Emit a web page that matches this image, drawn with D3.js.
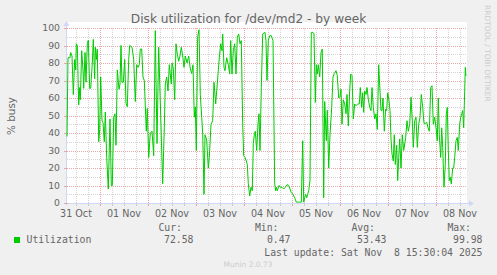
<!DOCTYPE html>
<html><head><meta charset="utf-8">
<script src="https://cdn.jsdelivr.net/npm/d3@7"></script>
<style>
html,body{margin:0;padding:0;background:#f0f0f0;}
svg{display:block;}
</style></head>
<body>
<svg id="chart" width="497" height="275"></svg>
<script>
// ---- data (hours since 2025-10-31 07:30 UTC, % busy) ----
const title = "Disk utilization for /dev/md2 - by week";
const yLabel = "% busy";
const seriesName = "Utilization";
const hours = [0,0.5,1.5,1.85,2.5,3.15,3.85,4.35,4.65,5.15,5.85,6.35,6.65,7.35,8,8.35,9,9.5,10.15,10.65,11.35,11.85,12.65,13.15,13.85,14.15,14.65,15.15,15.85,16.35,16.85,17.5,18,18.65,19.15,19.85,20.65,21.5,22.15,22.65,23.35,24,24.5,25.15,26,26.5,27,27.5,28.15,28.85,29.5,30.15,30.85,31.35,32.5,33.35,34.15,34.85,35.5,36.15,36.65,37.35,38,38.65,39.65,40.15,40.85,41.65,42.5,43.35,44.15,45,45.85,47.85,48.65,49.15,49.85,50.5,51.15,52.15,52.5,53.15,53.85,54.5,55.15,55.85,56.5,57.15,57.85,58.5,59.15,60,60.85,61.65,62.35,63,63.65,64.15,64.65,65.35,66,66.65,67.35,67.85,68.5,69,69.85,70.65,71.15,72,72.85,73.5,74.35,74.85,75.65,76.15,76.85,77.5,77.85,78.5,79,79.85,80.65,81.35,81.85,82.5,83.15,83.85,84.5,85.15,85.85,86.5,87.15,87.85,88.35,89,89.65,90.15,90.65,91.35,92,92.65,93.15,93.65,94.15,94.85,95.5,96,96.5,97.15,97.85,99,99.5,100,100.65,101.35,102.15,103,103.85,104.35,104.65,105.15,106,106.65,107.5,108.35,109.15,110,110.85,111.5,112.15,113,113.85,114.65,115.5,116.35,117.15,117.85,118.35,118.85,119.35,119.85,120.35,120.85,121.5,122.15,123,123.5,124.15,124.65,125.15,125.65,126.35,127,127.65,128.35,128.85,129.65,130.15,130.85,131.5,132.35,133,133.65,134.5,135.15,135.85,136.5,137,137.5,138.15,138.85,139.5,140,140.65,141.35,141.85,142.5,143.15,143.85,144.5,145.35,146.15,146.65,147.35,147.85,148.35,148.85,149.5,150,150.65,151.35,152,152.5,153.15,153.85,154.5,155.15,155.85,156.5,157,157.5,158,158.65,159.35,159.85,160.35,161,161.5,162,162.5,163.15,163.65,164.15,164.85,165.35,165.85,166.35,167,167.65,168.35,169.35,170,170.65,171.35,172,172.65,173.15,173.85,174.5,175.15,175.85,176.5,177.15,177.85,178.5,179.15,179.85,180.5,181.15,181.85,182.5,183.15,183.85,184.5,185.15,185.65,186.15,186.85,187.35,187.85,188.5,189.15,189.65,190.15,190.65,191.15,191.65,192.15,192.85,193.35,193.85,194.5,195.15,195.65,196.35,196.85,197.35,197.85,198.35,198.85,199.15,199.5];
const util = [38,83,83,86,84,62,82,76,91,90,56,66,59,87,76,65.5,86,69,91,93,65.5,65.5,80,93.5,71,89,82,88,35,42,72,47,46,35,52,26,8,48,10,10,49,51,33,76,65,68,90,69,69,82,57,55,82,90,89,82,58,79,77.5,79,88,88,72,70,41,54,26,40,41,27,98.5,34,89,11,43,68,72,64,79,68,80,77,59,91,85,81,84,89,84,77.5,84,80,84,76.6,74,79,49,55,30,95,99,62,49,40,5,39,36,20,26,45,47,69,56.6,64,75.6,83,91,87,96.6,77.5,75.6,83,79,73.7,92.8,73.7,87,91,73.7,94.7,96.6,91,92.8,45,27,26,24,22,11,4,9,7,34,39,41,30,45,51,30,66,96.6,97.5,92.8,70,92.8,95.6,95.6,92.8,11,7,9,7,10,9,9,8,9,10.5,10,8,6,5,3,0.5,0.5,0.5,0.5,35.6,0.5,3,5,3,5,7,13,97.5,97.5,96.6,57.5,79,73.7,79,72,86,88,3,58,35.6,53,20,39,54.7,72,74,75.6,72.8,60,61,65,45,59,56.6,51,62,44,64,73.7,72.8,48,56.6,55.6,56.6,56.6,66,54.7,63,51.8,64,62,66,59.4,54.7,52.8,66,54.7,48,51,42,79,64,52.8,52.8,60,41,53.7,52.8,63,58.5,52.8,36.6,28,24,39,22,33,12.8,26,36.6,20,39,30,37.5,47,41,45,60.4,47,31.8,47,49,31.8,45,49,62,54.7,45.5,45.5,46.1,43,41,66,67,45,49,43,35.6,60,39,26,43,31.8,9,22,51,54.7,30,12.8,14.7,10.8,20,20,26,35.6,37.5,30,45,49,51,52.8,43,64,77.5,72.6];
const yTicks = [0,10,20,30,40,50,60,70,80,90,100];
const dayLabels = ["31 Oct","01 Nov","02 Nov","03 Nov","04 Nov","05 Nov","06 Nov","07 Nov","08 Nov"];
const legendHeads = ["Cur:","Min:","Avg:","Max:"];
const legendVals = ["72.58","0.47","53.43","99.98"];
const lastUpdate = "Last update: Sat Nov  8 15:30:04 2025";
const footer = "Munin 2.0.73";
const sideText = "RRDTOOL / TOBI OETIKER";

// ---- layout ----
const svg = d3.select("#chart");
const L = 67, R = 467, T = 28, B = 203;
const start = new Date(Date.UTC(2025, 9, 31, 7, 30));
const end = new Date(start.getTime() + 200 * 3600e3);
const x = d3.scaleUtc().domain([start, end]).range([L, R]);
const y = d3.scaleLinear().domain([0, 100]).range([B, T]);
const font = "DejaVu Sans, sans-serif";
const mono = "DejaVu Sans Mono, monospace";
const fc = "#666666";

svg.append("rect").attr("width", 497).attr("height", 275).attr("fill", "#f0f0f0");
svg.append("rect").attr("x", L).attr("y", 22).attr("width", R - L).attr("height", B - 22).attr("fill", "#ffffff");

// grid
const g = svg.append("g").attr("shape-rendering", "crispEdges");
d3.range(0, 101, 5).forEach(v => {
  if (v === 0) return;
  const major = v % 10 === 0;
  g.append("line").attr("x1", L).attr("x2", R).attr("y1", Math.round(y(v)) + 0.5).attr("y2", Math.round(y(v)) + 0.5)
    .attr("stroke", major ? "#e8a8a8" : "#d4d4d4").attr("stroke-dasharray", "1,1");
});
const sixH = d3.utcHour.every(6).range(start, end);
sixH.forEach(t => {
  const major = t.getUTCHours() === 0;
  const xx = Math.round(x(t)) + 0.5;
  g.append("line").attr("x1", xx).attr("x2", xx).attr("y1", T).attr("y2", B)
    .attr("stroke", major ? "#e8a8a8" : "#d4d4d4").attr("stroke-dasharray", "1,1");
  g.append("line").attr("x1", xx).attr("x2", xx).attr("y1", B - 1).attr("y2", B + 3)
    .attr("stroke", major ? "#e8a0a0" : "#c8c8c8");
});

// axes lines
const axc = "#cfd6f8";
svg.append("line").attr("x1", L - 0.5).attr("x2", L - 0.5).attr("y1", B + 2).attr("y2", 24).attr("stroke", axc);
svg.append("line").attr("x1", L - 2).attr("x2", 470).attr("y1", B + 0.5).attr("y2", B + 0.5).attr("stroke", axc);
svg.append("path").attr("d", `M${L-3.5},26 L${L-0.5},21 L${L+2.5},26 Z`).attr("fill", axc);
svg.append("path").attr("d", `M469,${B-2.5} L474,${B+0.5} L469,${B+3.5} Z`).attr("fill", axc);
// tick marks
yTicks.forEach(v => {
  svg.append("line").attr("x1", L - 3).attr("x2", L + 1).attr("y1", Math.round(y(v)) + 0.5).attr("y2", Math.round(y(v)) + 0.5).attr("stroke", "#e0a8a8");
});

// y labels
svg.append("g").selectAll("text").data(yTicks).join("text")
  .attr("x", 60).attr("y", d => y(d) + 3.3).attr("text-anchor", "end")
  .attr("font-family", font).attr("font-size", 9.3).attr("fill", fc).text(d => d);

// x labels at noon of each day
const days = d3.utcDay.range(new Date(Date.UTC(2025, 9, 31)), new Date(Date.UTC(2025, 10, 9)));
svg.append("g").selectAll("text").data(days).join("text")
  .attr("x", d => x(new Date(d.getTime() + 12 * 3600e3))).attr("y", 216.5).attr("text-anchor", "middle")
  .attr("font-family", font).attr("font-size", 9.6).attr("fill", fc).text((d, i) => dayLabels[i]);

// data line
const pts = hours.map((h, i) => ({t: new Date(start.getTime() + h * 3600e3), v: util[i]}));
const line = d3.line().x(d => x(d.t)).y(d => y(d.v));
svg.append("path").datum(pts).attr("d", line).attr("fill", "none").attr("stroke", "#00cc00").attr("stroke-width", 1);

// title
svg.append("text").attr("x", 248.5).attr("y", 23).attr("text-anchor", "middle")
  .attr("font-family", font).attr("font-size", 12.2).attr("fill", fc).text(title);
// y axis title
svg.append("text").attr("transform", "translate(14.5,116) rotate(-90)").attr("text-anchor", "middle")
  .attr("font-family", font).attr("font-size", 10.4).attr("fill", fc).text(yLabel);
// side text
svg.append("text").attr("transform", "translate(484.5,5) rotate(90)").attr("text-anchor", "start")
  .attr("font-family", font).attr("font-size", 7.5).attr("fill", "#cccccc").text(sideText);

// legend
const headRight = [182, 278.5, 375, 471];
const valRight = [193.5, 290.5, 386.5, 482.5];
legendHeads.forEach((h, i) => {
  svg.append("text").attr("x", headRight[i]).attr("y", 230.5).attr("text-anchor", "end")
    .attr("font-family", mono).attr("font-size", 9.8).attr("fill", fc).text(h);
  svg.append("text").attr("x", valRight[i]).attr("y", 243.3).attr("text-anchor", "end")
    .attr("font-family", mono).attr("font-size", 9.8).attr("fill", fc).text(legendVals[i]);
});
svg.append("rect").attr("x", 14).attr("y", 237).attr("width", 6).attr("height", 6).attr("fill", "#00cc00");
svg.append("text").attr("x", 26.5).attr("y", 243.3)
  .attr("font-family", mono).attr("font-size", 9.8).attr("fill", fc).text(seriesName);
svg.append("text").attr("x", 482.5).attr("y", 255.5).attr("text-anchor", "end").style("white-space", "pre")
  .attr("font-family", mono).attr("font-size", 9.8).attr("fill", fc).text(lastUpdate);
svg.append("text").attr("x", 248).attr("y", 266.5).attr("text-anchor", "middle")
  .attr("font-family", font).attr("font-size", 7.5).attr("fill", "#cccccc").text(footer);
</script>
</body></html>
